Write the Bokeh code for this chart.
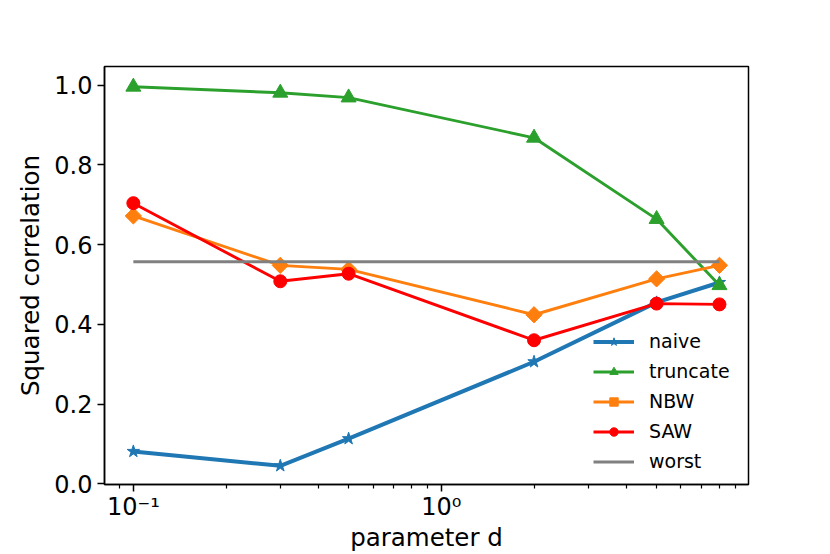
import math
from bokeh.plotting import figure
from bokeh.models import Range1d, FixedTicker, PrintfTickFormatter, Legend
from bokeh.embed import file_html
from bokeh.resources import INLINE

d_values = [0.1, 0.3, 0.5, 2, 5, 8]
naive = [0.081, 0.045, 0.113, 0.306, 0.455, 0.505]
truncate = [0.996, 0.981, 0.969, 0.868, 0.664, 0.498]
nbw = [0.672, 0.548, 0.538, 0.424, 0.514, 0.548]
saw = [0.704, 0.508, 0.527, 0.360, 0.452, 0.450]
worst_x = [0.1, 8]
worst = [0.557, 0.557]

x_tick_values = [0.1, 1.0]
x_tick_labels = ["10⁻¹", "10⁰"]
x_minor_ticks = [0.09, 0.2, 0.3, 0.4, 0.5, 0.6, 0.7, 0.8, 0.9,
                 2, 3, 4, 5, 6, 7, 8, 9]
y_tick_values = [0.0, 0.2, 0.4, 0.6, 0.8, 1.0]

FONT = "DejaVu Sans"

p = figure(width=830, height=554, x_axis_type="log",
           x_range=Range1d(0.0806, 9.94), y_range=Range1d(-0.002, 1.047),
           output_backend="svg", toolbar_location=None,
           min_border_left=104, min_border_right=82,
           min_border_top=66, min_border_bottom=70)
p.background_fill_color = "white"
p.border_fill_color = "white"
p.outline_line_color = "black"
p.outline_line_width = 1.5
p.xgrid.visible = False
p.ygrid.visible = False

r1 = p.line(d_values, naive, line_color="#1f77b4", line_width=4)
r1s = p.scatter(d_values, naive, marker="star", size=13, fill_color="#1f77b4", line_color="#1f77b4")
r2 = p.line(d_values, truncate, line_color="#2ca02c", line_width=2.9)
r2s = p.scatter(d_values, truncate, marker="triangle", size=15, fill_color="#2ca02c", line_color="#2ca02c")
r3 = p.line(d_values, nbw, line_color="#ff7f0e", line_width=2.9)
r3s = p.scatter(d_values, nbw, marker="square", angle=math.pi / 4, size=11.5, fill_color="#ff7f0e", line_color="#ff7f0e")
r4 = p.line(d_values, saw, line_color="#ff0000", line_width=2.9)
r4s = p.scatter(d_values, saw, marker="circle", size=13, fill_color="#ff0000", line_color="#ff0000")
r5 = p.line(worst_x, worst, line_color="#808080", line_width=2.9)

legend = Legend(items=[("naive", [r1, r1s]), ("truncate", [r2, r2s]),
                       ("NBW", [r3, r3s]), ("SAW", [r4, r4s]), ("worst", [r5])],
                location=(489, 12), padding=0, margin=0, spacing=8,
                glyph_width=41, glyph_height=21, label_height=21,
                label_standoff=15,
                label_text_font=FONT, label_text_font_size="19px",
                label_text_color="black",
                background_fill_alpha=0, border_line_alpha=0)
p.add_layout(legend, "center")

for ax in (p.xaxis[0], p.yaxis[0]):
    ax.axis_line_width = 1.5
    ax.major_tick_line_width = 1.5
    ax.minor_tick_line_width = 1.2
    ax.major_tick_in = 0
    ax.major_tick_out = 7
    ax.minor_tick_in = 0
    ax.minor_tick_out = 4
    ax.major_label_text_font = FONT
    ax.major_label_text_font_size = "24px"
    ax.major_label_text_color = "black"
    ax.axis_label_text_font = FONT
    ax.axis_label_text_font_size = "24.5px"
    ax.axis_label_text_font_style = "normal"
    ax.axis_label_text_color = "black"

p.xaxis.ticker = FixedTicker(ticks=x_tick_values, minor_ticks=x_minor_ticks)
p.xaxis.major_label_overrides = dict(zip(x_tick_values, x_tick_labels))
p.xaxis.major_label_standoff = 1
p.xaxis.axis_label = "parameter d"
p.xaxis.axis_label_standoff = -1
p.yaxis.ticker = FixedTicker(ticks=y_tick_values, minor_ticks=[])
p.yaxis.formatter = PrintfTickFormatter(format="%.1f")
p.yaxis.major_label_standoff = 5
p.yaxis.axis_label = "Squared correlation"
p.yaxis.axis_label_standoff = 6

open("out.html", "w").write(file_html(p, INLINE))
